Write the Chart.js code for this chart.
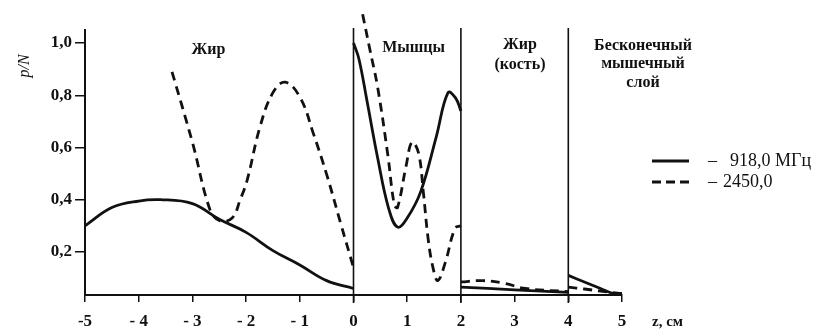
<!DOCTYPE html>
<html>
<head>
<meta charset="utf-8">
<script src="https://cdn.jsdelivr.net/npm/chart.js@4"></script>
<style>
  body { margin: 0; background: #fff; }
</style>
</head>
<body>
<canvas id="canvas1" width="819" height="329"></canvas>
<script>
// данные (z в см, p/N)

// жир, -5..0
const zFat918 = [-5, -4.5, -4, -3.6, -3, -2.5, -2, -1.5, -1, -0.5, 0];
const pFat918 = [0.30, 0.37, 0.395, 0.40, 0.385, 0.325, 0.275, 0.205, 0.15, 0.09, 0.06];
const zFat2450 = [-3.38, -3.0, -2.67, -2.49, -2.26, -2.11, -1.98, -1.74, -1.5, -1.27, -0.99, -0.75, -0.49, -0.24, 0];
const pFat2450 = [0.89, 0.62, 0.36, 0.32, 0.33, 0.40, 0.475, 0.68, 0.81, 0.85, 0.79, 0.655, 0.49, 0.31, 0.14];

// мышцы, 0..2
const zMus918 = [0, 0.1, 0.25, 0.45, 0.65, 0.82, 1.0, 1.25, 1.54, 1.76, 1.9, 2.0];
const pMus918 = [1.0, 0.94, 0.78, 0.56, 0.37, 0.295, 0.33, 0.43, 0.64, 0.81, 0.79, 0.74];
const zMus2450 = [0.17, 0.3, 0.45, 0.64, 0.76, 0.82, 0.98, 1.09, 1.21, 1.30, 1.39, 1.48, 1.57, 1.71, 1.89, 2.0];
const pMus2450 = [1.11, 0.98, 0.83, 0.57, 0.38, 0.37, 0.53, 0.62, 0.58, 0.43, 0.25, 0.14, 0.09, 0.16, 0.29, 0.30];

// жир (кость), 2..4
const zBone918 = [2, 3, 4];
const pBone918 = [0.065, 0.055, 0.045];
const zBone2450 = [2.0, 2.4, 2.8, 3.2, 4.0];
const pBone2450 = [0.085, 0.09, 0.08, 0.06, 0.048];

// бесконечный мышечный слой, 4..5
const zInf918 = [4, 4.3, 4.6, 4.85, 5];
const pInf918 = [0.11, 0.085, 0.06, 0.04, 0.04];
const zInf2450 = [4, 4.3, 4.6, 5];
const pInf2450 = [0.065, 0.058, 0.05, 0.04];

// оси
const xTicks = [-5, -4, -3, -2, -1, 0, 1, 2, 3, 4, 5];
const yTicks = [0.2, 0.4, 0.6, 0.8, 1.0];
const boundaries = [0, 2, 4];

const serif = '"Liberation Serif", "DejaVu Serif", serif';

function pts(zs, ps) {
    let data = [];
    for (let i = 0; i < zs.length; i++) {
        data.push({x: zs[i], y: ps[i]});
    }
    return data;
}

function solid(zs, ps) {
    return {
        data: pts(zs, ps),
        borderColor: '#111',
        borderWidth: 2.8,
        pointRadius: 0,
        fill: false,
        tension: 0.4,
        clip: false
    };
}

function dashed(zs, ps) {
    let ds = solid(zs, ps);
    ds.borderDash = [9, 6];
    return ds;
}

// подписи, границы слоёв, легенда
const decor = {
    id: 'decor',
    afterDraw(chart) {
        const ctx = chart.ctx;
        const xs = chart.scales.x;
        const area = chart.chartArea;
        ctx.save();

        // границы слоёв
        ctx.strokeStyle = '#111';
        ctx.lineWidth = 1.6;
        boundaries.forEach(b => {
            const px = xs.getPixelForValue(b);
            ctx.beginPath();
            ctx.moveTo(px, area.top - 2);
            ctx.lineTo(px, area.bottom + 8);
            ctx.stroke();
        });

        ctx.fillStyle = '#111';
        ctx.textAlign = 'center';
        ctx.textBaseline = 'middle';
        ctx.font = 'bold 16px ' + serif;
        ctx.fillText('Жир', xs.getPixelForValue(-2.7), 50);
        ctx.fillText('Мышцы', xs.getPixelForValue(1.12), 48);
        ctx.fillText('Жир', xs.getPixelForValue(3.1), 45);
        ctx.fillText('(кость)', xs.getPixelForValue(3.1), 65);
        ctx.fillText('Бесконечный', 643, 46);
        ctx.fillText('мышечный', 643, 64);
        ctx.fillText('слой', 643, 83);

        // легенда
        const lx = area.right + 30;
        ctx.lineWidth = 2.8;
        ctx.beginPath();
        ctx.moveTo(lx, 161);
        ctx.lineTo(lx + 37, 161);
        ctx.stroke();
        ctx.setLineDash([9, 5]);
        ctx.beginPath();
        ctx.moveTo(lx, 182);
        ctx.lineTo(lx + 37, 182);
        ctx.stroke();
        ctx.setLineDash([]);
        ctx.font = '18px ' + serif;
        ctx.textAlign = 'left';
        ctx.fillText('–', lx + 56, 161);
        ctx.fillText('918,0 МГц', lx + 78, 161);
        ctx.fillText('–', lx + 56, 182);
        ctx.fillText('2450,0', lx + 71, 182);

        // подписи осей
        ctx.font = 'bold 15px ' + serif;
        ctx.fillText('z, см', area.right + 30, 322);
        ctx.translate(25, 66);
        ctx.rotate(-Math.PI / 2);
        ctx.textAlign = 'center';
        ctx.font = 'italic 16px ' + serif;
        ctx.fillText('p/N', 0, 0);
        ctx.restore();
    }
};

let canvas1 = document.getElementById('canvas1');

let myChart1 = new Chart(canvas1, {
    type: 'line',
    data: {
        datasets: [
            solid(zFat918, pFat918),
            dashed(zFat2450, pFat2450),
            solid(zMus918, pMus918),
            dashed(zMus2450, pMus2450),
            solid(zBone918, pBone918),
            dashed(zBone2450, pBone2450),
            solid(zInf918, pInf918),
            dashed(zInf2450, pInf2450)
        ]
    },
    options: {
        responsive: false,
        animation: false,
        layout: {
            padding: {left: 0, right: 197, top: 30, bottom: 0}
        },
        plugins: {
            legend: {display: false},
            tooltip: {enabled: false}
        },
        scales: {
            x: {
                type: 'linear',
                min: -5,
                max: 5,
                afterBuildTicks: s => { s.ticks = xTicks.map(v => ({value: v})); },
                afterFit: s => { s.height = 34; },
                grid: {drawOnChartArea: false, tickLength: 7, color: '#111', lineWidth: 1.5},
                border: {color: '#111', width: 2},
                ticks: {
                    color: '#111',
                    padding: 9,
                    font: {family: serif, size: 17, weight: 'bold'},
                    callback: v => v == -5 ? '-5' : (v < 0 ? '- ' + Math.abs(v) : String(v))
                }
            },
            y: {
                min: 0.035,
                max: 1.05,
                afterBuildTicks: s => { s.ticks = yTicks.map(v => ({value: v})); },
                afterFit: s => { s.width = 85; },
                grid: {drawOnChartArea: false, tickLength: 10, color: '#111', lineWidth: 1.5},
                border: {color: '#111', width: 2},
                ticks: {
                    color: '#111',
                    padding: 3,
                    font: {family: serif, size: 17, weight: 'bold'},
                    callback: v => v.toFixed(1).replace('.', ',')
                }
            }
        }
    },
    plugins: [decor]
});
</script>
</body>
</html>
